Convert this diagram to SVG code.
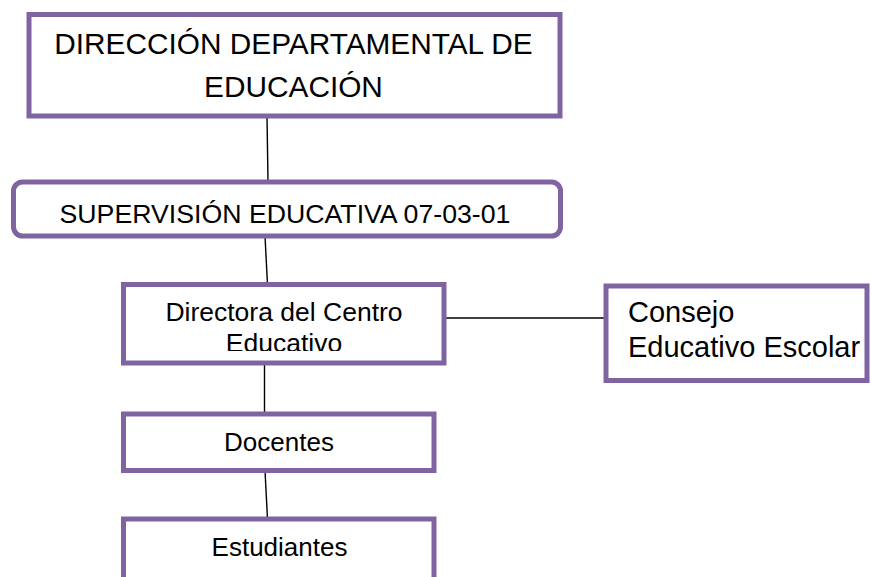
<svg xmlns="http://www.w3.org/2000/svg" width="871" height="577" viewBox="0 0 871 577">
<style>
.box{fill:#fff;stroke:#8064A2;stroke-width:5}
.t{font-family:"Liberation Sans",Arial,sans-serif;fill:#000}
.c{stroke:#000;stroke-width:1.4;fill:none}
</style>
<defs>
<clipPath id="clipDir"><rect x="126" y="287" width="316" height="64"/></clipPath>
</defs>
<rect width="871" height="577" fill="#fff"/>
<g id="connectors">
<line class="c" x1="267" y1="116" x2="268" y2="182"/>
<line class="c" x1="265" y1="236" x2="267.5" y2="284.5"/>
<line class="c" x1="444" y1="318" x2="606" y2="318"/>
<line class="c" x1="264.5" y1="363" x2="264.5" y2="414"/>
<line class="c" x1="265" y1="470.5" x2="267.5" y2="519"/>
</g>
<g id="direccion">
<rect class="box" x="29" y="14.5" width="531" height="101.5"/>
<text class="t" font-size="29.8" text-anchor="middle" x="293.5"><tspan x="293.5" y="54">DIRECCIÓN DEPARTAMENTAL DE</tspan><tspan x="293.5" y="96.5">EDUCACIÓN</tspan></text>
</g>
<g id="supervision">
<rect class="box" x="13.5" y="182" width="547" height="54" rx="9"/>
<text class="t" font-size="26.7" text-anchor="middle" x="285" y="223">SUPERVISIÓN EDUCATIVA 07-03-01</text>
</g>
<g id="directora">
<rect class="box" x="123.5" y="284.5" width="320.5" height="78.5"/>
<text class="t" font-size="26.5" text-anchor="middle" clip-path="url(#clipDir)"><tspan x="284" y="321">Directora del Centro</tspan><tspan x="284" y="352">Educativo</tspan></text>
</g>
<g id="consejo">
<rect class="box" x="606" y="286" width="261" height="94.5"/>
<text class="t" font-size="29"><tspan x="628" y="322">Consejo</tspan><tspan x="628" y="357">Educativo Escolar</tspan></text>
</g>
<g id="docentes">
<rect class="box" x="123.5" y="414" width="310.5" height="56.5"/>
<text class="t" font-size="26" text-anchor="middle" x="279" y="450.5">Docentes</text>
</g>
<g id="estudiantes">
<rect class="box" x="123.5" y="519" width="310.5" height="70"/>
<text class="t" font-size="26" text-anchor="middle" x="279.5" y="555.5">Estudiantes</text>
</g>
</svg>
